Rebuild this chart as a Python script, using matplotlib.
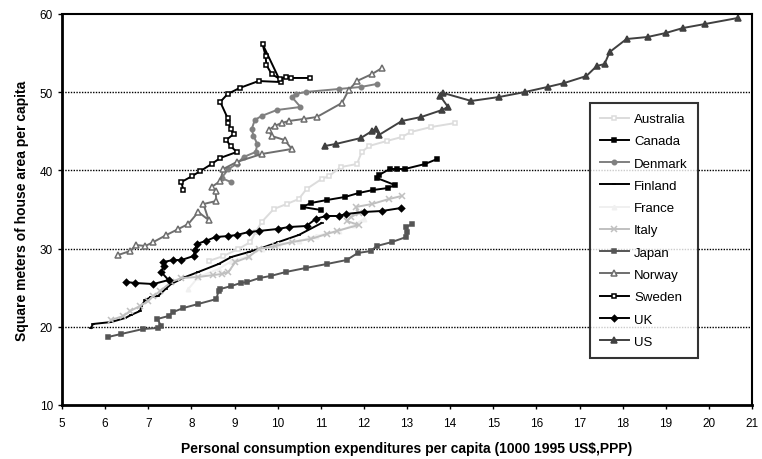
import numpy as np
import matplotlib.pyplot as plt

plt.rcParams['font.family'] = ['Liberation Sans', 'DejaVu Sans']

# values (x: 1000 1995 US$ PPP, y: m2 per capita)
australia_x = [8.40, 8.74, 9.09, 9.37, 9.49, 9.63, 9.91, 10.21, 10.49, 10.67, 11.02, 11.19, 11.47, 11.84, 11.95, 12.12, 12.53, 12.88, 13.09, 13.56, 14.12]
australia_y = [28.41, 29.05, 29.95, 30.84, 32.12, 33.40, 35.06, 35.70, 36.34, 37.62, 38.90, 39.28, 40.43, 40.82, 42.35, 43.12, 43.76, 44.27, 44.91, 45.55, 46.06]

canada_x = [11.00, 10.58, 10.77, 11.14, 11.56, 11.88, 12.21, 12.56, 12.72, 12.30, 12.35, 12.60, 12.77, 12.95, 13.42, 13.70]
canada_y = [34.94, 35.32, 35.83, 36.21, 36.60, 37.11, 37.49, 37.75, 38.13, 39.03, 39.41, 40.18, 40.18, 40.18, 40.82, 41.46]

denmark_x = [8.91, 8.70, 8.86, 9.05, 9.21, 9.49, 9.53, 9.44, 9.40, 9.47, 9.63, 9.98, 10.53, 10.33, 10.42, 10.65, 11.42, 11.93, 12.30]
denmark_y = [38.52, 39.03, 40.18, 40.82, 41.71, 42.35, 43.38, 44.40, 45.29, 46.45, 46.96, 47.72, 48.11, 49.39, 49.77, 50.03, 50.41, 50.67, 51.05]

finland_x = [5.67, 5.72, 6.14, 6.47, 6.60, 6.81, 6.84, 6.93, 7.07, 7.23, 7.40, 7.53, 7.86, 8.16, 8.63, 8.93, 9.33, 9.63, 10.02, 10.49, 11.02]
finland_y = [19.85, 20.36, 20.61, 21.13, 21.51, 22.02, 22.66, 23.43, 23.81, 23.94, 24.83, 25.47, 26.37, 27.01, 28.03, 28.93, 29.56, 30.08, 30.84, 31.74, 33.27]

france_x = [7.93, 8.16, 8.63, 8.93, 9.33, 9.63, 10.02, 10.49, 10.88, 11.42, 11.77, 12.00]
france_y = [24.83, 26.37, 27.39, 28.41, 29.05, 29.95, 30.59, 30.97, 31.61, 32.25, 33.02, 33.79]

italy_x = [6.14, 6.42, 6.58, 6.81, 7.00, 7.12, 7.28, 7.53, 7.77, 8.16, 8.51, 8.70, 8.86, 9.02, 9.33, 9.56, 9.95, 10.33, 10.77, 11.14, 11.37, 11.88, 11.60, 11.70, 11.88, 11.81, 12.19, 12.58, 12.88]
italy_y = [20.87, 21.38, 22.02, 22.66, 23.30, 23.94, 24.58, 25.73, 26.24, 26.37, 26.62, 26.75, 27.01, 28.29, 28.93, 29.95, 30.33, 30.84, 31.23, 31.87, 32.25, 33.02, 33.53, 34.04, 34.55, 35.32, 35.70, 36.34, 36.73]

japan_x = [6.07, 6.37, 6.88, 7.23, 7.30, 7.21, 7.47, 7.58, 7.81, 8.16, 8.58, 8.63, 8.67, 8.93, 9.14, 9.30, 9.58, 9.84, 10.19, 10.65, 11.14, 11.60, 11.86, 12.16, 12.30, 12.65, 12.98, 13.00, 12.98, 13.12]
japan_y = [18.70, 19.08, 19.72, 19.85, 20.10, 21.00, 21.38, 21.89, 22.40, 22.92, 23.55, 24.58, 24.83, 25.22, 25.60, 25.73, 26.24, 26.50, 27.01, 27.52, 28.03, 28.54, 29.44, 29.69, 30.33, 30.84, 31.48, 32.12, 32.76, 33.15]

norway_x = [6.30, 6.58, 6.72, 6.93, 7.12, 7.42, 7.70, 7.93, 8.16, 8.40, 8.28, 8.58, 8.56, 8.47, 8.67, 8.74, 9.05, 9.63, 10.33, 10.16, 9.86, 9.79, 9.93, 10.09, 10.26, 10.60, 10.91, 11.49, 11.65, 11.84, 12.19, 12.42]
norway_y = [29.18, 29.69, 30.46, 30.33, 30.84, 31.74, 32.51, 33.15, 34.68, 33.66, 35.70, 36.09, 37.37, 37.88, 38.64, 40.18, 41.07, 42.10, 42.74, 43.89, 44.40, 45.17, 45.68, 46.06, 46.32, 46.57, 46.83, 48.62, 50.28, 51.43, 52.33, 53.09]

sweden_x = [7.81, 7.77, 8.02, 8.21, 8.47, 8.67, 9.05, 8.91, 8.81, 8.98, 8.91, 8.86, 8.84, 8.67, 8.84, 9.12, 9.56, 10.07, 9.65, 9.72, 9.74, 9.86, 10.05, 10.19, 10.30, 10.74]
sweden_y = [37.49, 38.52, 39.28, 39.92, 40.82, 41.59, 42.35, 43.12, 43.89, 44.65, 45.29, 46.06, 46.70, 48.75, 49.77, 50.54, 51.43, 51.30, 56.16, 54.63, 53.48, 52.33, 51.69, 51.94, 51.82, 51.82]

uk_x = [6.49, 6.70, 7.12, 7.47, 7.30, 7.37, 7.35, 7.58, 7.77, 8.05, 8.09, 8.12, 8.33, 8.56, 8.86, 9.05, 9.33, 9.56, 10.00, 10.26, 10.67, 10.88, 11.12, 11.42, 11.58, 12.00, 12.42, 12.86]
uk_y = [25.73, 25.60, 25.47, 25.98, 27.01, 27.78, 28.29, 28.54, 28.54, 29.05, 29.82, 30.59, 30.97, 31.48, 31.61, 31.74, 32.12, 32.25, 32.51, 32.76, 32.89, 33.79, 34.17, 34.17, 34.42, 34.68, 34.81, 35.19]

us_x = [11.09, 11.35, 11.93, 12.19, 12.28, 12.35, 12.88, 13.33, 13.81, 13.95, 13.77, 13.84, 14.49, 15.14, 15.74, 16.26, 16.65, 17.16, 17.40, 17.58, 17.70, 18.09, 18.58, 19.00, 19.40, 19.91, 20.67]
us_y = [43.12, 43.38, 44.14, 45.04, 45.30, 44.53, 46.32, 46.83, 47.72, 48.11, 49.51, 49.90, 48.88, 49.39, 50.03, 50.67, 51.18, 52.07, 53.35, 53.60, 55.14, 56.80, 57.06, 57.57, 58.21, 58.72, 59.49]

series = [
    ('Australia', australia_x, australia_y, '#dcdcdc', 's', 'white', 3.2),
    ('Canada', canada_x, canada_y, 'black', 's', 'black', 2.5),
    ('Denmark', denmark_x, denmark_y, '#808080', 'o', '#808080', 3.2),
    ('Finland', finland_x, finland_y, 'black', '_', 'black', 3),
    ('France', france_x, france_y, '#f0f0f0', '^', '#f0f0f0', 3.2),
    ('Italy', italy_x, italy_y, '#c0c0c0', 'x', '#c0c0c0', 4),
    ('Japan', japan_x, japan_y, '#555555', 's', '#555555', 2.5),
    ('Norway', norway_x, norway_y, '#6e6e6e', '^', 'white', 4),
    ('Sweden', sweden_x, sweden_y, 'black', 's', 'white', 3.2),
    ('UK', uk_x, uk_y, 'black', 'D', 'black', 3.2),
    ('US', us_x, us_y, '#404040', '^', '#404040', 4),
]

fig = plt.figure(figsize=(7.62, 4.6), dpi=100)
ax = fig.add_axes([62/762, 1-406/460, 690/762, 391/460])

for name, x, y, col, mk, fc, ms in series:
    ax.plot(x, y, color=col, lw=1.4, marker=mk, markersize=ms,
            markerfacecolor=fc, markeredgecolor=col, markeredgewidth=1.1, label=name)

ax.set_xlim(5, 21)
ax.set_ylim(10, 60)
ax.set_xticks(range(5, 22))
ax.set_yticks(range(10, 61, 10))
for v in [20, 30, 40, 50]:
    ax.axhline(v, color='black', lw=1.0, ls=(0, (1, 1)), zorder=0)

for s in ['left', 'bottom']:
    ax.spines[s].set_linewidth(2)
for s in ['top', 'right']:
    ax.spines[s].set_linewidth(1.5)
ax.tick_params(axis='both', labelsize=8.5, direction='out', length=3, width=1)
ax.tick_params(axis='x', pad=6)

ax.set_xlabel('Personal consumption expenditures per capita (1000 1995 US$,PPP)',
              fontsize=10, fontweight='bold', labelpad=8)
ax.set_ylabel('Square meters of house area per capita', fontsize=10, fontweight='bold', labelpad=8)

leg = ax.legend(loc='upper left', bbox_to_anchor=(590/762, 1-104/460),
                bbox_transform=fig.transFigure, fontsize=9.5, frameon=True,
                fancybox=False, borderaxespad=0, handlelength=2.2, labelspacing=0.76,
                borderpad=0.75, handletextpad=0.4)
leg.get_frame().set_edgecolor('black')
leg.get_frame().set_linewidth(1.5)

plt.savefig('out.png', dpi=100)
